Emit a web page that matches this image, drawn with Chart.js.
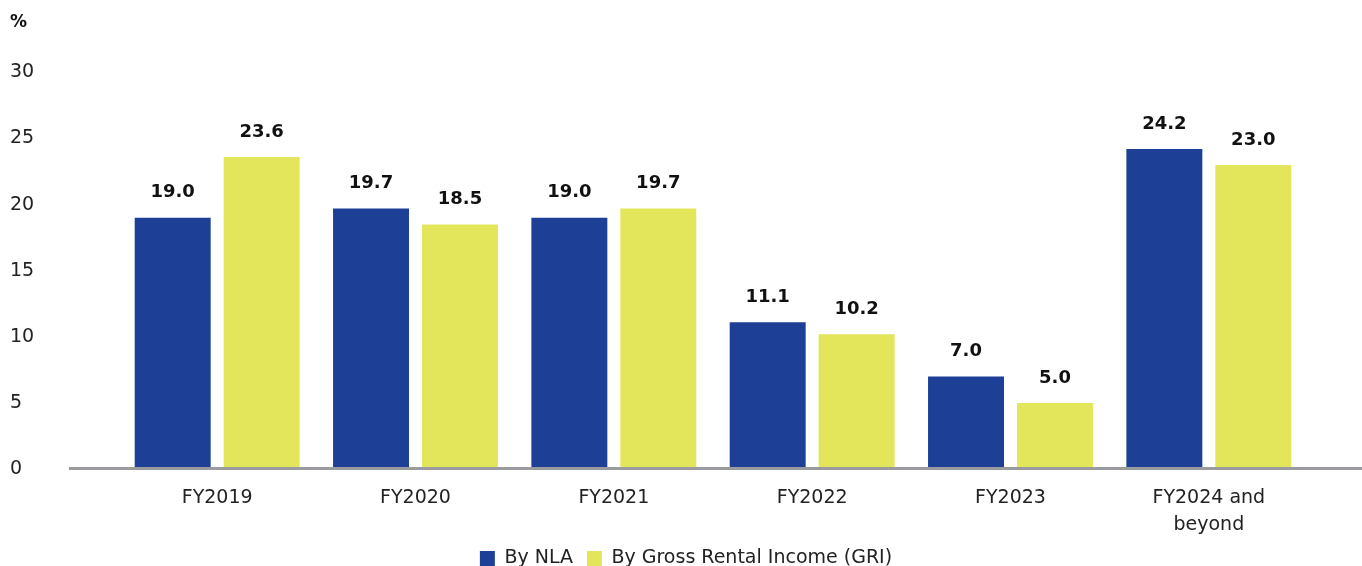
<!DOCTYPE html>
<html>
<head>
<meta charset="utf-8">
<script src="https://cdn.jsdelivr.net/npm/chart.js@4.4.1/dist/chart.umd.min.js"></script>
<style>
  html, body { margin: 0; padding: 0; background: #ffffff; overflow: hidden; }
  #wrap { width: 1362px; height: 578px; }
</style>
</head>
<body>
<div id="wrap"><canvas id="chart" width="1362" height="578"></canvas></div>
<script>
// Lease expiry profile by financial year (%)
const categories = [['FY2019'], ['FY2020'], ['FY2021'], ['FY2022'], ['FY2023'], ['FY2024 and', 'beyond']];
const byNla = [19.0, 19.7, 19.0, 11.1, 7.0, 24.2];
const byGri = [23.6, 18.5, 19.7, 10.2, 5.0, 23.0];
const seriesNames = ['By NLA', 'By Gross Rental Income (GRI)'];
const yMin = 0, yMax = 30, yStep = 5;
const unitLabel = '%';

const BLUE = '#1d3f96';
const YELLOW = '#e3e65b';
const TEXT = '#222222';
const FONT = "'DejaVu Sans', sans-serif";

// Values printed above each bar
const valueLabels = {
  id: 'valueLabels',
  afterDatasetsDraw(chart) {
    const ctx = chart.ctx;
    ctx.save();
    ctx.font = "bold 18px " + FONT;
    ctx.fillStyle = '#111111';
    ctx.textAlign = 'center';
    ctx.textBaseline = 'middle';
    chart.data.datasets.forEach((ds, di) => {
      chart.getDatasetMeta(di).data.forEach((bar, i) => {
        ctx.fillText(ds.data[i].toFixed(1), bar.x, bar.y - 25);
      });
    });
    ctx.restore();
  }
};

// Grey baseline running under the bars
const baseline = {
  id: 'baseline',
  afterDatasetsDraw(chart) {
    const ctx = chart.ctx;
    const y0 = chart.scales.y.getPixelForValue(0);
    ctx.save();
    ctx.strokeStyle = '#9a9b9f';
    ctx.lineWidth = 3;
    ctx.beginPath();
    ctx.moveTo(69, y0 - 0.5);
    ctx.lineTo(chart.width, y0 - 0.5);
    ctx.stroke();
    ctx.restore();
  }
};

new Chart(document.getElementById('chart'), {
  type: 'bar',
  data: {
    labels: categories,
    datasets: [
      { label: seriesNames[0], data: byNla, backgroundColor: BLUE, yAxisID: 'y' },
      { label: seriesNames[1], data: byGri, backgroundColor: YELLOW, yAxisID: 'y' }
    ]
  },
  options: {
    responsive: false,
    devicePixelRatio: 1,
    animation: false,
    layout: { padding: { left: 10, right: 0, top: 0, bottom: 0 } },
    datasets: {
      bar: { categoryPercentage: 0.897, barPercentage: 0.854 }
    },
    scales: {
      x: {
        grid: { display: false, drawTicks: false },
        border: { display: false },
        ticks: {
          color: TEXT,
          font: { family: FONT, size: 19, lineHeight: 1.42 },
          padding: 16,
          maxRotation: 0
        },
        afterFit(scale) { scale.height = 66; }
      },
      y: {
        position: 'left',
        min: yMin,
        max: yMax,
        grid: { display: false, drawTicks: false },
        border: { display: false },
        ticks: {
          stepSize: yStep,
          color: TEXT,
          crossAlign: 'far',
          font: { family: FONT, size: 19 }
        },
        afterFit(scale) { scale.width = 108; }
      },
      yRight: {
        position: 'right',
        display: true,
        grid: { display: false, drawTicks: false },
        border: { display: false },
        ticks: { display: false },
        afterFit(scale) { scale.width = 54; }
      }
    },
    plugins: {
      title: {
        display: true,
        text: unitLabel,
        align: 'start',
        color: '#111111',
        font: { family: FONT, size: 17, weight: 'bold', lineHeight: 1.2 },
        padding: { top: 12, bottom: 40 }
      },
      legend: {
        position: 'bottom',
        labels: {
          boxWidth: 15,
          boxHeight: 15,
          padding: 14,
          color: TEXT,
          font: { family: FONT, size: 19 }
        }
      },
      tooltip: { enabled: false }
    }
  },
  plugins: [valueLabels, baseline]
});
</script>
</body>
</html>
